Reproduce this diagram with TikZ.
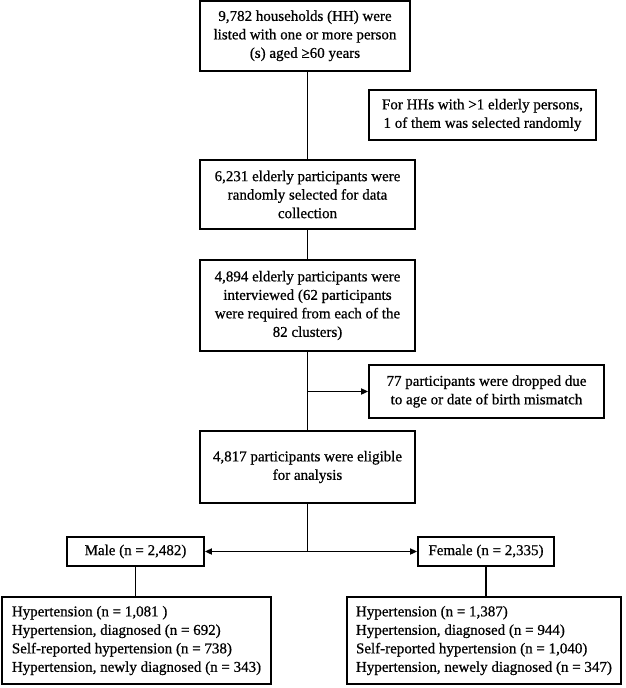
\documentclass[tikz,border=0pt]{standalone}
\usepackage{fontspec}
\setmainfont{Liberation Serif}[FakeBold=0.7]
\usetikzlibrary{arrows.meta}
\begin{document}
\begin{tikzpicture}[x=1pt,y=-1pt,
  box/.style={draw, line width=1.8pt, align=center, inner sep=0pt,
    font=\fontsize{15}{18.5}\selectfont},
  resbox/.style={draw, line width=1.8pt, align=left, inner sep=0pt,
    font=\fontsize{15}{18.5}\selectfont, minimum height=87pt},
  conn/.style={line width=1.8pt},
  arr/.style={line width=1.8pt, -{Triangle[length=7pt,width=6pt]}}]
\useasboundingbox (0,0) rectangle (626,688);

\node[box, minimum width=210pt, minimum height=70pt] (b1) at (305,35.8)
  {9,782 households (HH) were\\listed with one or more person\\(s) aged ≥60 years};
\node[box, minimum width=227pt, minimum height=50pt] (note) at (482.5,115)
  {For HHs with >1 elderly persons,\\1 of them was selected randomly};
\node[box, minimum width=215pt, minimum height=69pt] (b2) at (307.5,194.5)
  {6,231 elderly participants were\\randomly selected for data\\collection};
\node[box, minimum width=215pt, minimum height=91pt] (b3) at (307.5,305.5)
  {4,894 elderly participants were\\interviewed (62 participants\\were required from each of the\\82 clusters)};
\node[box, minimum width=235pt, minimum height=53pt] (drop) at (486.5,391.5)
  {77 participants were dropped due\\to age or date of birth mismatch};
\node[box, minimum width=215pt, minimum height=72pt] (el) at (307.5,467)
  {4,817 participants were eligible\\for analysis};
\node[box, minimum width=137pt, minimum height=29pt] (male) at (135.5,551.5)
  {Male (n = 2,482)};
\node[box, minimum width=136pt, minimum height=29pt] (fem) at (486,551.5)
  {Female (n = 2,335)};
\node[resbox, minimum width=269pt] (mres) at (136.5,640.5)
  {Hypertension (n = 1,081 )\\Hypertension, diagnosed (n = 692)\\Self-reported hypertension (n = 738)\\Hypertension, newly diagnosed (n = 343)};
\node[resbox, minimum width=274pt] (fres) at (484,640.5)
  {Hypertension (n = 1,387)\\Hypertension, diagnosed (n = 944)\\Self-reported hypertension (n = 1,040)\\Hypertension, newely diagnosed (n = 347)};

\coordinate (br) at (b3.south |- drop.west);
\coordinate (sp) at (el.south |- male.east);

\draw[conn] (b1.south -| b2.north) -- (b2.north);
\draw[conn] (b2.south) -- (b3.north);
\draw[conn] (b3.south) -- (el.north);
\draw[arr] (br) -- (drop.west);
\draw[conn] (el.south) -- (sp);
\draw[arr] (sp) -- (male.east);
\draw[arr] (sp) -- (fem.west);
\draw[conn] (male.south) -- (male.south |- mres.north);
\draw[conn] (fem.south) -- (fem.south |- fres.north);
\end{tikzpicture}
\end{document}
